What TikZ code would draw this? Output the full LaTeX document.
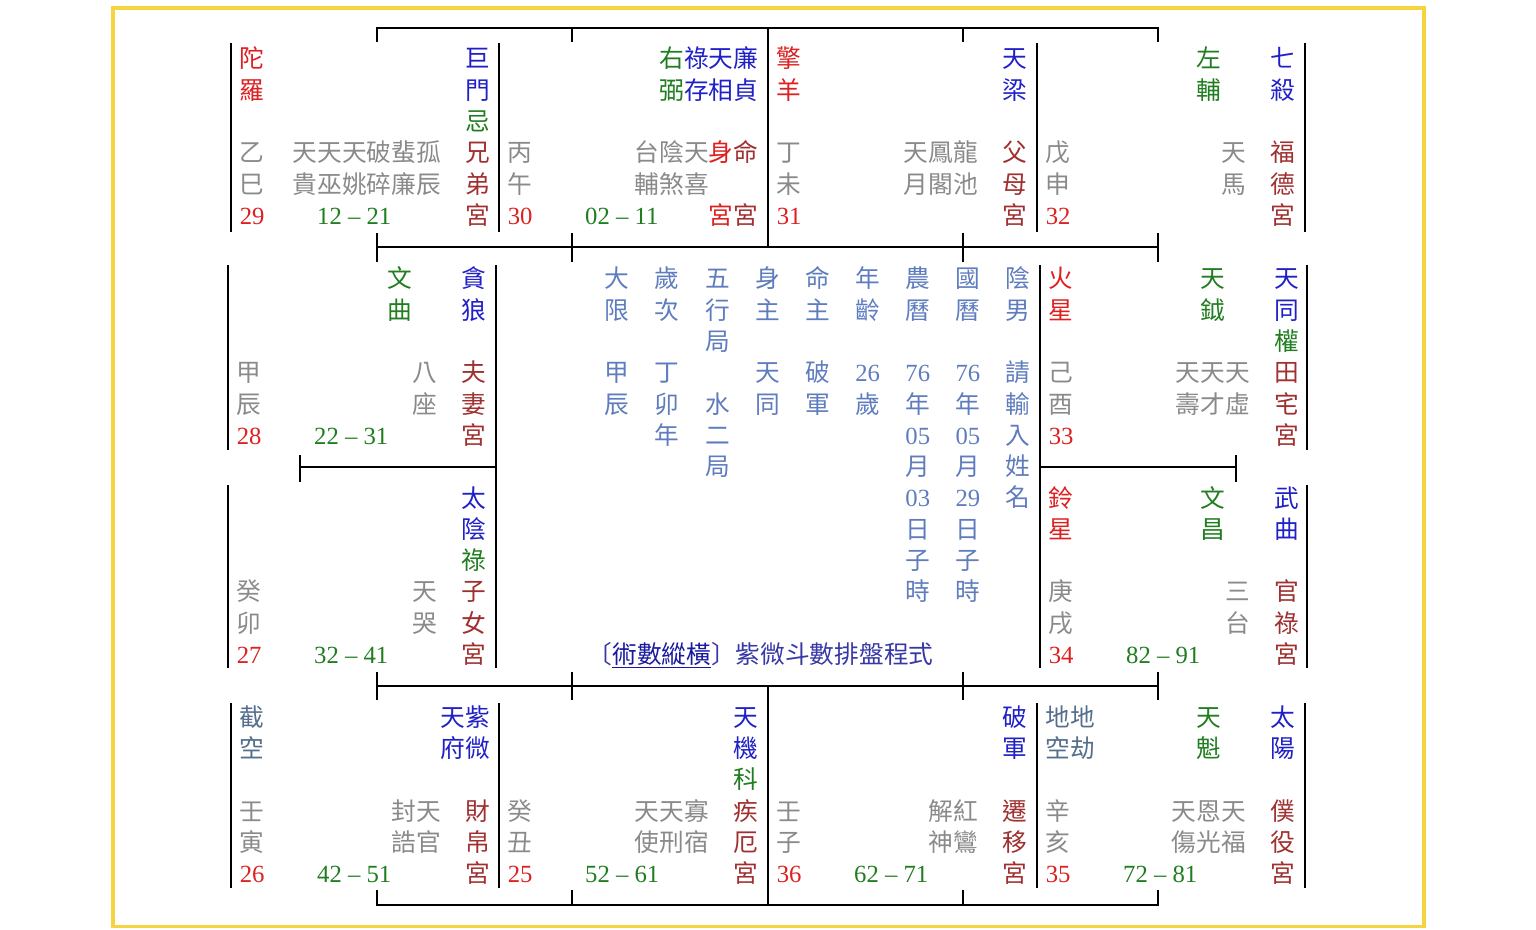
\documentclass[tikz,border=0pt]{standalone}
\usepackage{fontspec}
\setmainfont{Liberation Serif}
\newfontfamily\cjk{Noto Sans CJK TC}
\usepackage{tikz}

\definecolor{hong}{RGB}{221,32,32}
\definecolor{zong}{RGB}{160,48,48}
\definecolor{lan}{RGB}{32,32,200}
\definecolor{lv}{RGB}{32,125,32}
\definecolor{hui}{RGB}{138,138,138}
\definecolor{qing}{RGB}{85,110,140}
\definecolor{zhong}{RGB}{95,125,190}
\definecolor{biao}{RGB}{55,55,165}
\definecolor{lianjie}{RGB}{25,25,160}
\definecolor{huang}{RGB}{245,212,64}

% one cell of the middle table
\newcommand\gz[1]{\makebox[50.1pt]{#1}}
\newcommand\sz[1]{{\rmfamily #1}}

\begin{document}
\begin{tikzpicture}[x=1pt,y=1pt,
	wen/.style={font=\cjk\fontsize{24.7}{31}\selectfont,text height=21.7pt,text depth=3pt},
	shu/.style={font=\rmfamily\fontsize{24.7}{31}\selectfont,text height=21.7pt,text depth=3pt,anchor=west},
	zl/.style={wen,anchor=west},
	zr/.style={wen,anchor=east},
	xian/.style={line width=2.5pt}]
	\tikzstyle{every node}+=[inner sep=0pt]
	\useasboundingbox (0,0) rectangle (1536,-929);
	\draw [huang,line width=3.5pt] (113,-8) rectangle (1424,-926.5);
	% grid
	\draw [xian] (377,-42) -- (377,-28) -- (1158,-28) -- (1158,-42);
	\draw [xian] (572,-28) -- (572,-42);
	\draw [xian] (963,-28) -- (963,-42);
	\draw [xian] (768,-28) -- (768,-247);
	\draw [xian] (231,-43) -- (231,-232);
	\draw [xian] (499,-43) -- (499,-232);
	\draw [xian] (1037,-43) -- (1037,-232);
	\draw [xian] (1305,-43) -- (1305,-232);
	\draw [xian] (377,-247) -- (1158,-247);
	\draw [xian] (377,-233) -- (377,-262);
	\draw [xian] (572,-233) -- (572,-262);
	\draw [xian] (963,-233) -- (963,-262);
	\draw [xian] (1158,-233) -- (1158,-262);
	\draw [xian] (228,-265) -- (228,-450);
	\draw [xian] (228,-485) -- (228,-668);
	\draw [xian] (496,-265) -- (496,-668);
	\draw [xian] (300,-467) -- (496,-467);
	\draw [xian] (300,-455) -- (300,-482);
	\draw [xian] (1040,-265) -- (1040,-668);
	\draw [xian] (1307,-265) -- (1307,-450);
	\draw [xian] (1307,-485) -- (1307,-668);
	\draw [xian] (1040,-467) -- (1236,-467);
	\draw [xian] (1236,-455) -- (1236,-482);
	\draw [xian] (377,-686) -- (1158,-686);
	\draw [xian] (377,-672) -- (377,-700);
	\draw [xian] (572,-672) -- (572,-700);
	\draw [xian] (963,-672) -- (963,-700);
	\draw [xian] (1158,-672) -- (1158,-700);
	\draw [xian] (768,-686) -- (768,-905);
	\draw [xian] (231,-703) -- (231,-888);
	\draw [xian] (499,-703) -- (499,-888);
	\draw [xian] (1037,-703) -- (1037,-888);
	\draw [xian] (1305,-703) -- (1305,-888);
	\draw [xian] (377,-890) -- (377,-905) -- (1158,-905) -- (1158,-890);
	\draw [xian] (572,-890) -- (572,-905);
	\draw [xian] (963,-890) -- (963,-905);
	% si
	\node [zl,hong] (si-l1) at (239.6,-58.5) {陀};
	\node [zl,hong] (si-l2) at (239.6,-89.8) {羅};
	\node [zl,hui] (si-l4) at (239.6,-152.4) {乙};
	\node [zl,hui] (si-l5) at (239.6,-183.7) {巳};
	\node [shu,hong] (si-l6) at (239.6,-215) {29};
	\node [shu,lv] (si-d) at (317,-215) {12 – 21};
	\node [zr,lan] (si-r1) at (490.4,-58.5) {巨};
	\node [zr,lan] (si-r2) at (490.4,-89.8) {門};
	\node [zr,lv] (si-r3) at (490.4,-121.1) {忌};
	\node [zr,hui] (si-r4) at (490.4,-152.4) {天天天破蜚孤　\textcolor{zong}{兄}};
	\node [zr,hui] (si-r5) at (490.4,-183.7) {貴巫姚碎廉辰　\textcolor{zong}{弟}};
	\node [zr,zong] (si-r6) at (490.4,-215) {宮};
	% wu
	\node [zl,hui] (wu-l4) at (507.6,-152.4) {丙};
	\node [zl,hui] (wu-l5) at (507.6,-183.7) {午};
	\node [shu,hong] (wu-l6) at (507.6,-215) {30};
	\node [shu,lv] (wu-d) at (585,-215) {02 – 11};
	\node [zr,lan] (wu-r1) at (758.4,-58.5) {\textcolor{lv}{右}祿天廉};
	\node [zr,lan] (wu-r2) at (758.4,-89.8) {\textcolor{lv}{弼}存相貞};
	\node [zr,hui] (wu-r4) at (758.4,-152.4) {台陰天\textcolor{hong}{身}\textcolor{zong}{命}};
	\node [zr,hui] (wu-r5) at (758.4,-183.7) {輔煞喜　　};
	\node [zr,zong] (wu-r6) at (758.4,-215) {\textcolor{hong}{宮}宮};
	% wei
	\node [zl,hong] (wei-l1) at (776.6,-58.5) {擎};
	\node [zl,hong] (wei-l2) at (776.6,-89.8) {羊};
	\node [zl,hui] (wei-l4) at (776.6,-152.4) {丁};
	\node [zl,hui] (wei-l5) at (776.6,-183.7) {未};
	\node [shu,hong] (wei-l6) at (776.6,-215) {31};
	\node [zr,lan] (wei-r1) at (1027.4,-58.5) {天};
	\node [zr,lan] (wei-r2) at (1027.4,-89.8) {梁};
	\node [zr,hui] (wei-r4) at (1027.4,-152.4) {天鳳龍　\textcolor{zong}{父}};
	\node [zr,hui] (wei-r5) at (1027.4,-183.7) {月閣池　\textcolor{zong}{母}};
	\node [zr,zong] (wei-r6) at (1027.4,-215) {宮};
	% shen
	\node [zl,hui] (shen-l4) at (1045.6,-152.4) {戊};
	\node [zl,hui] (shen-l5) at (1045.6,-183.7) {申};
	\node [shu,hong] (shen-l6) at (1045.6,-215) {32};
	\node [zr,lan] (shen-r1) at (1295.4,-58.5) {\textcolor{lv}{左}　　七};
	\node [zr,lan] (shen-r2) at (1295.4,-89.8) {\textcolor{lv}{輔}　　殺};
	\node [zr,hui] (shen-r4) at (1295.4,-152.4) {天　\textcolor{zong}{福}};
	\node [zr,hui] (shen-r5) at (1295.4,-183.7) {馬　\textcolor{zong}{德}};
	\node [zr,zong] (shen-r6) at (1295.4,-215) {宮};
	% chen
	\node [zl,hui] (chen-l4) at (236.6,-372.4) {甲};
	\node [zl,hui] (chen-l5) at (236.6,-403.7) {辰};
	\node [shu,hong] (chen-l6) at (236.6,-435) {28};
	\node [shu,lv] (chen-d) at (314,-435) {22 – 31};
	\node [zr,lan] (chen-r1) at (486.4,-278.5) {\textcolor{lv}{文}　　貪};
	\node [zr,lan] (chen-r2) at (486.4,-309.8) {\textcolor{lv}{曲}　　狼};
	\node [zr,hui] (chen-r4) at (486.4,-372.4) {八　\textcolor{zong}{夫}};
	\node [zr,hui] (chen-r5) at (486.4,-403.7) {座　\textcolor{zong}{妻}};
	\node [zr,zong] (chen-r6) at (486.4,-435) {宮};
	% mao
	\node [zl,hui] (mao-l4) at (236.6,-591.6) {癸};
	\node [zl,hui] (mao-l5) at (236.6,-622.9) {卯};
	\node [shu,hong] (mao-l6) at (236.6,-654.2) {27};
	\node [shu,lv] (mao-d) at (314,-654.2) {32 – 41};
	\node [zr,lan] (mao-r1) at (486.4,-497.7) {太};
	\node [zr,lan] (mao-r2) at (486.4,-529) {陰};
	\node [zr,lv] (mao-r3) at (486.4,-560.3) {祿};
	\node [zr,hui] (mao-r4) at (486.4,-591.6) {天　\textcolor{zong}{子}};
	\node [zr,hui] (mao-r5) at (486.4,-622.9) {哭　\textcolor{zong}{女}};
	\node [zr,zong] (mao-r6) at (486.4,-654.2) {宮};
	% yu
	\node [zl,hong] (yu-l1) at (1048.6,-278.5) {火};
	\node [zl,hong] (yu-l2) at (1048.6,-309.8) {星};
	\node [zl,hui] (yu-l4) at (1048.6,-372.4) {己};
	\node [zl,hui] (yu-l5) at (1048.6,-403.7) {酉};
	\node [shu,hong] (yu-l6) at (1048.6,-435) {33};
	\node [zr,lan] (yu-r1) at (1299.4,-278.5) {\textcolor{lv}{天}　　天};
	\node [zr,lan] (yu-r2) at (1299.4,-309.8) {\textcolor{lv}{鉞}　　同};
	\node [zr,lv] (yu-r3) at (1299.4,-341.1) {權};
	\node [zr,hui] (yu-r4) at (1299.4,-372.4) {天天天　\textcolor{zong}{田}};
	\node [zr,hui] (yu-r5) at (1299.4,-403.7) {壽才虛　\textcolor{zong}{宅}};
	\node [zr,zong] (yu-r6) at (1299.4,-435) {宮};
	% xu
	\node [zl,hong] (xu-l1) at (1048.6,-497.7) {鈴};
	\node [zl,hong] (xu-l2) at (1048.6,-529) {星};
	\node [zl,hui] (xu-l4) at (1048.6,-591.6) {庚};
	\node [zl,hui] (xu-l5) at (1048.6,-622.9) {戌};
	\node [shu,hong] (xu-l6) at (1048.6,-654.2) {34};
	\node [shu,lv] (xu-d) at (1126,-654.2) {82 – 91};
	\node [zr,lan] (xu-r1) at (1299.4,-497.7) {\textcolor{lv}{文}　　武};
	\node [zr,lan] (xu-r2) at (1299.4,-529) {\textcolor{lv}{昌}　　曲};
	\node [zr,hui] (xu-r4) at (1299.4,-591.6) {三　\textcolor{zong}{官}};
	\node [zr,hui] (xu-r5) at (1299.4,-622.9) {台　\textcolor{zong}{祿}};
	\node [zr,zong] (xu-r6) at (1299.4,-654.2) {宮};
	% yin
	\node [zl,qing] (yin-l1) at (239.6,-716.9) {截};
	\node [zl,qing] (yin-l2) at (239.6,-748.2) {空};
	\node [zl,hui] (yin-l4) at (239.6,-810.8) {壬};
	\node [zl,hui] (yin-l5) at (239.6,-842.1) {寅};
	\node [shu,hong] (yin-l6) at (239.6,-873.4) {26};
	\node [shu,lv] (yin-d) at (317,-873.4) {42 – 51};
	\node [zr,lan] (yin-r1) at (490.4,-716.9) {天紫};
	\node [zr,lan] (yin-r2) at (490.4,-748.2) {府微};
	\node [zr,hui] (yin-r4) at (490.4,-810.8) {封天　\textcolor{zong}{財}};
	\node [zr,hui] (yin-r5) at (490.4,-842.1) {誥官　\textcolor{zong}{帛}};
	\node [zr,zong] (yin-r6) at (490.4,-873.4) {宮};
	% chou
	\node [zl,hui] (chou-l4) at (507.6,-810.8) {癸};
	\node [zl,hui] (chou-l5) at (507.6,-842.1) {丑};
	\node [shu,hong] (chou-l6) at (507.6,-873.4) {25};
	\node [shu,lv] (chou-d) at (585,-873.4) {52 – 61};
	\node [zr,lan] (chou-r1) at (758.4,-716.9) {天};
	\node [zr,lan] (chou-r2) at (758.4,-748.2) {機};
	\node [zr,lv] (chou-r3) at (758.4,-779.5) {科};
	\node [zr,hui] (chou-r4) at (758.4,-810.8) {天天寡　\textcolor{zong}{疾}};
	\node [zr,hui] (chou-r5) at (758.4,-842.1) {使刑宿　\textcolor{zong}{厄}};
	\node [zr,zong] (chou-r6) at (758.4,-873.4) {宮};
	% zi
	\node [zl,hui] (zi-l4) at (776.6,-810.8) {壬};
	\node [zl,hui] (zi-l5) at (776.6,-842.1) {子};
	\node [shu,hong] (zi-l6) at (776.6,-873.4) {36};
	\node [shu,lv] (zi-d) at (854,-873.4) {62 – 71};
	\node [zr,lan] (zi-r1) at (1027.4,-716.9) {破};
	\node [zr,lan] (zi-r2) at (1027.4,-748.2) {軍};
	\node [zr,hui] (zi-r4) at (1027.4,-810.8) {解紅　\textcolor{zong}{遷}};
	\node [zr,hui] (zi-r5) at (1027.4,-842.1) {神鸞　\textcolor{zong}{移}};
	\node [zr,zong] (zi-r6) at (1027.4,-873.4) {宮};
	% hai
	\node [zl,qing] (hai-l1) at (1045.6,-716.9) {地地};
	\node [zl,qing] (hai-l2) at (1045.6,-748.2) {空劫};
	\node [zl,hui] (hai-l4) at (1045.6,-810.8) {辛};
	\node [zl,hui] (hai-l5) at (1045.6,-842.1) {亥};
	\node [shu,hong] (hai-l6) at (1045.6,-873.4) {35};
	\node [shu,lv] (hai-d) at (1123,-873.4) {72 – 81};
	\node [zr,lan] (hai-r1) at (1295.4,-716.9) {\textcolor{lv}{天}　　太};
	\node [zr,lan] (hai-r2) at (1295.4,-748.2) {\textcolor{lv}{魁}　　陽};
	\node [zr,hui] (hai-r4) at (1295.4,-810.8) {天恩天　\textcolor{zong}{僕}};
	\node [zr,hui] (hai-r5) at (1295.4,-842.1) {傷光福　\textcolor{zong}{役}};
	\node [zr,zong] (hai-r6) at (1295.4,-873.4) {宮};
	% middle
	\node [zl,zhong] (zx1) at (591.95,-278.5) {\gz{大}\gz{歲}\gz{五}\gz{身}\gz{命}\gz{年}\gz{農}\gz{國}\gz{陰}};
	\node [zl,zhong] (zx2) at (591.95,-309.8) {\gz{限}\gz{次}\gz{行}\gz{主}\gz{主}\gz{齡}\gz{曆}\gz{曆}\gz{男}};
	\node [zl,zhong] (zx3) at (591.95,-341.1) {\gz{}\gz{}\gz{局}};
	\node [zl,zhong] (zx4) at (591.95,-372.4) {\gz{甲}\gz{丁}\gz{}\gz{天}\gz{破}\gz{\sz{26}}\gz{\sz{76}}\gz{\sz{76}}\gz{請}};
	\node [zl,zhong] (zx5) at (591.95,-403.7) {\gz{辰}\gz{卯}\gz{水}\gz{同}\gz{軍}\gz{歲}\gz{年}\gz{年}\gz{輸}};
	\node [zl,zhong] (zx6) at (591.95,-435) {\gz{}\gz{年}\gz{二}\gz{}\gz{}\gz{}\gz{\sz{05}}\gz{\sz{05}}\gz{入}};
	\node [zl,zhong] (zx7) at (591.95,-466.3) {\gz{}\gz{}\gz{局}\gz{}\gz{}\gz{}\gz{月}\gz{月}\gz{姓}};
	\node [zl,zhong] (zx8) at (892.55,-497.6) {\gz{\sz{03}}\gz{\sz{29}}\gz{名}};
	\node [zl,zhong] (zx9) at (892.55,-528.9) {\gz{日}\gz{日}};
	\node [zl,zhong] (zx10) at (892.55,-560.2) {\gz{子}\gz{子}};
	\node [zl,zhong] (zx11) at (892.55,-591.5) {\gz{時}\gz{時}};
	\node [wen,biao] (biaoti) at (760.5,-654.2) {〔\textcolor{lianjie}{\underline{術數縱橫}}〕紫微斗數排盤程式};
\end{tikzpicture}
\end{document}
